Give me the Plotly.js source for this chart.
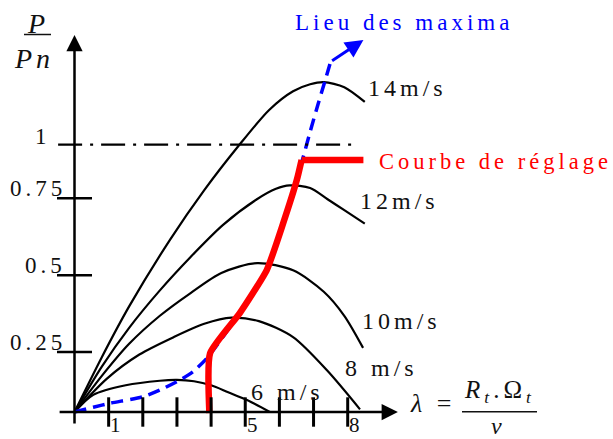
<!DOCTYPE html>
<html lang="fr">
<head>
<meta charset="UTF-8">
<title>Courbes de puissance - lieu des maxima</title>
<script src="https://cdn.plot.ly/plotly-3.0.1.min.js"></script>
<style>
    html, body { margin: 0; padding: 0; background: #fff; }
    #chart { width: 613px; height: 439px; }
    text.annotation-text { letter-spacing: 4px; }
</style>
</head>
<body>
<div id="chart"></div>
<script>
    // P/Pn versus lambda = Rt.Omega_t / v, one curve per wind speed
    const lam6 = [0, 0.55, 1.5, 2.5, 3.0, 3.5, 4.0, 4.5, 5.05, 5.72];
    const p6 = [0, 0.064, 0.1, 0.117, 0.12, 0.115, 0.1, 0.074, 0.045, 0];

    const lam8 = [0, 0.95, 1.9, 2.9, 3.8, 4.6, 5.4, 6.4, 7.4, 8.36];
    const p8 = [0, 0.125, 0.215, 0.28, 0.33, 0.353, 0.34, 0.28, 0.155, 0.01];

    const lam10 = [0, 0.8, 1.6, 2.5, 3.4, 4.3, 5.35, 6.4, 7.3, 7.9, 8.45];
    const p10 = [0, 0.135, 0.255, 0.36, 0.445, 0.52, 0.557, 0.53, 0.45, 0.36, 0.24];

    const lam12 = [0, 0.8, 1.6, 2.5, 3.4, 4.35, 5.33, 5.9, 6.3, 6.9, 7.4, 7.9, 8.5];
    const p12 = [0, 0.17, 0.315, 0.455, 0.58, 0.7, 0.795, 0.835, 0.848, 0.838, 0.797, 0.755, 0.705];

    const lam14 = [0, 0.8, 1.6, 2.8, 3.8, 4.8, 5.7, 6.4, 6.9, 7.3, 7.9, 8.5];
    const p14 = [0, 0.205, 0.395, 0.645, 0.83, 0.995, 1.13, 1.2, 1.226, 1.234, 1.215, 1.16];

    const speedLabels = ['6 m/s', '8 m/s', '10m/s', '12m/s', '14m/s'];

    // locus of maxima (blue dashed) and control curve (red)
    const lieuLam = [0, 0.55, 1.04, 2.0, 2.5, 3.09, 3.47, 3.87, 4.84, 5.63, 6.11, 6.5, 6.7, 6.89, 7.14, 7.33, 7.5];
    const lieuP = [0, 0.018, 0.033, 0.057, 0.082, 0.12, 0.151, 0.2, 0.37, 0.531, 0.706, 0.868, 0.955, 1.044, 1.155, 1.236, 1.31];
    const lieuArrowTip = [8.46, 1.392];

    const regLam = [3.95, 3.97, 4.84, 5.63, 6.11, 6.51, 6.65, 8.46];
    const regP = [-0.004, 0.22, 0.37, 0.531, 0.706, 0.868, 0.943, 0.943];

    // axis ticks as drawn on the figure
    const xTickVals = [1, 2, 3, 4, 5, 6, 7, 8];
    const xLabelVals = [1, 5, 8];
    const xLabelText = ['1', '5', '8'];
    const yTickPos = [0.224, 0.512, 0.8];
    const yTickText = ['0.25', '0.5', '0.75'];
    const nominal = 1;

    const serif = 'Liberation Serif, Times New Roman, serif';

    function curve(x, y) {
        return {
            x: x, y: y, mode: 'lines', type: 'scatter', hoverinfo: 'skip',
            line: { color: '#000', width: 2.2, shape: 'spline', smoothing: 0.8 }
        };
    }

    const corner = regLam.length - 2;
    const traces = [
        curve(lam6, p6), curve(lam8, p8), curve(lam10, p10), curve(lam12, p12), curve(lam14, p14),
        {
            x: lieuLam, y: lieuP, mode: 'lines', type: 'scatter', hoverinfo: 'skip',
            line: { color: '#0000ff', width: 3.5, dash: '12px,7px', shape: 'spline', smoothing: 0.6 }
        },
        {
            x: regLam.slice(0, corner + 1), y: regP.slice(0, corner + 1), mode: 'lines', type: 'scatter', hoverinfo: 'skip',
            line: { color: '#ff0000', width: 6.5, shape: 'spline', smoothing: 0.5 }
        },
        {
            x: regLam.slice(corner), y: regP.slice(corner), mode: 'lines', type: 'scatter', hoverinfo: 'skip',
            line: { color: '#ff0000', width: 6.5 }
        },
        {
            x: xTickVals, y: xTickVals.map(() => 0), mode: 'markers', type: 'scatter', hoverinfo: 'skip',
            marker: { symbol: 'line-ns', size: 21, line: { width: 3, color: '#000' } }
        },
        {
            x: yTickPos.map(() => 0), y: yTickPos, mode: 'markers', type: 'scatter', hoverinfo: 'skip',
            marker: { symbol: 'line-ew', size: 25, line: { width: 2.5, color: '#000' } }
        }
    ];

    const annotations = [];

    // axes with arrow heads
    annotations.push({
        x: 9.47, y: 0, ax: -0.48, ay: 0, axref: 'x', ayref: 'y', text: '',
        showarrow: true, arrowhead: 2, arrowsize: 1.3, arrowwidth: 2.5, arrowcolor: '#000'
    });
    annotations.push({
        x: 0, y: 1.41, ax: 0, ay: -0.049, axref: 'x', ayref: 'y', text: '',
        showarrow: true, arrowhead: 2, arrowsize: 1.3, arrowwidth: 2.5, arrowcolor: '#000'
    });
    // arrow at the end of the locus of maxima
    annotations.push({
        x: lieuArrowTip[0], y: lieuArrowTip[1],
        ax: lieuLam[lieuLam.length - 1], ay: lieuP[lieuP.length - 1], axref: 'x', ayref: 'y', text: '',
        showarrow: true, arrowhead: 2, arrowsize: 1.2, arrowwidth: 3, arrowcolor: '#0000ff'
    });

    xLabelVals.forEach((v, i) => {
        annotations.push({
            x: v, y: 0, text: xLabelText[i], showarrow: false, xanchor: 'center', yanchor: 'middle',
            xshift: 9, yshift: -13, font: { family: serif, size: 21, color: '#111' }
        });
    });
    yTickPos.forEach((v, i) => {
        annotations.push({
            x: 0, y: v, text: yTickText[i], showarrow: false, xanchor: 'right', yanchor: 'middle',
            xshift: -7, yshift: 10, font: { family: serif, size: 23, color: '#111' }
        });
    });
    annotations.push({
        x: 0, y: nominal, text: '1', showarrow: false, xanchor: 'center', yanchor: 'middle',
        xshift: -32, yshift: 8, font: { family: serif, size: 23, color: '#111' }
    });

    // wind speed labels next to the curve ends
    const speedLabelX = [5.12, 7.86, 8.36, 8.3, 8.54];
    const speedLabelY = [0.075, 0.166, 0.34, 0.789, 1.214];
    speedLabels.forEach((t, i) => {
        annotations.push({
            x: speedLabelX[i], y: speedLabelY[i], text: t, showarrow: false,
            xanchor: 'left', yanchor: 'middle', font: { family: serif, size: 24, color: '#111' }
        });
    });

    annotations.push({
        xref: 'paper', yref: 'paper', x: 293 / 613, y: 1 - 22.5 / 439, text: 'Lieu des maxima',
        showarrow: false, xanchor: 'left', yanchor: 'middle', font: { family: serif, size: 23, color: '#0000ff' }
    });
    annotations.push({
        xref: 'paper', yref: 'paper', x: 377 / 613, y: 1 - 161.7 / 439, text: 'Courbe de réglage',
        showarrow: false, xanchor: 'left', yanchor: 'middle', font: { family: serif, size: 22.5, color: '#ff0000' }
    });

    // y title P / Pn
    annotations.push({
        xref: 'paper', yref: 'paper', x: 37.5 / 613, y: 1 - 23 / 439, text: '<i>P</i>',
        showarrow: false, xanchor: 'center', yanchor: 'middle', font: { family: serif, size: 28, color: '#111' }
    });
    annotations.push({
        xref: 'paper', yref: 'paper', x: 34 / 613, y: 1 - 58.5 / 439, text: '<i>Pn</i>',
        showarrow: false, xanchor: 'center', yanchor: 'middle', font: { family: serif, size: 28, color: '#111' }
    });

    // x title lambda = Rt.Omega_t / v
    annotations.push({
        xref: 'paper', yref: 'paper', x: 432 / 613, y: 1 - 403 / 439, text: '<i>λ</i> =',
        showarrow: false, xanchor: 'center', yanchor: 'middle', font: { family: serif, size: 26, color: '#111' }
    });
    annotations.push({
        xref: 'paper', yref: 'paper', x: 499 / 613, y: 1 - 391 / 439,
        text: '<i>R</i><sub><i>t</i></sub>.Ω<sub><i>t</i></sub>',
        showarrow: false, xanchor: 'center', yanchor: 'middle', font: { family: serif, size: 25, color: '#111' }
    });
    annotations.push({
        xref: 'paper', yref: 'paper', x: 498 / 613, y: 1 - 426 / 439, text: '<i>v</i>',
        showarrow: false, xanchor: 'center', yanchor: 'middle', font: { family: serif, size: 24, color: '#111' }
    });

    const shapes = [
        {
            type: 'line', xref: 'x', yref: 'y', x0: -0.48, x1: 8.3, y0: nominal, y1: nominal,
            line: { color: '#000', width: 2.2, dash: '24px,8px,3px,8px' }
        },
        {
            type: 'line', xref: 'paper', yref: 'paper', x0: 24 / 613, x1: 51 / 613,
            y0: 1 - 34.5 / 439, y1: 1 - 34.5 / 439, line: { color: '#111', width: 1.5 }
        },
        {
            type: 'line', xref: 'paper', yref: 'paper', x0: 462 / 613, x1: 537 / 613,
            y0: 1 - 411.7 / 439, y1: 1 - 411.7 / 439, line: { color: '#111', width: 1.5 }
        }
    ];

    const layout = {
        width: 613, height: 439,
        margin: { l: 0, r: 0, t: 0, b: 0 },
        paper_bgcolor: '#fff', plot_bgcolor: '#fff',
        showlegend: false,
        xaxis: { range: [-74.5 / 34.15, 538.5 / 34.15], visible: false, fixedrange: true },
        yaxis: { range: [-27 / 267.3, 412 / 267.3], visible: false, fixedrange: true },
        annotations: annotations,
        shapes: shapes
    };

    Plotly.newPlot('chart', traces, layout, { displayModeBar: false, staticPlot: true });
</script>
</body>
</html>
